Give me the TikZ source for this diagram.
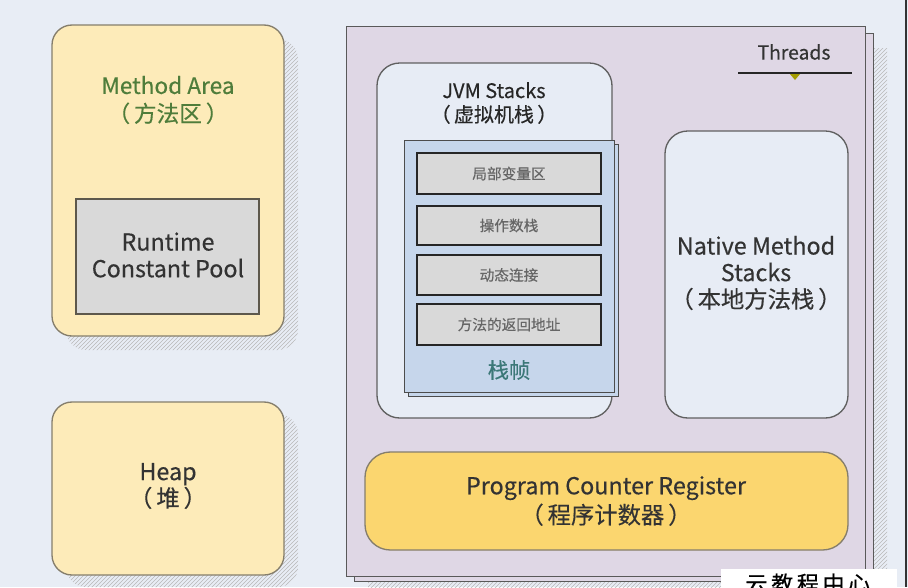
\documentclass[tikz,border=0pt]{standalone}
\usepackage{fontspec}
\setmainfont{Noto Sans CJK SC}[FakeBold=0.35]
\usetikzlibrary{patterns}

\definecolor{pagebg}{HTML}{E8EDF5}
\definecolor{areayellow}{HTML}{FDEBB9}
\definecolor{areaedge}{HTML}{857E6C}
\definecolor{poolgrey}{HTML}{D9D9D9}
\definecolor{threadfill}{HTML}{DFD7E5}
\definecolor{stackfill}{HTML}{E7ECF5}
\definecolor{framefill}{HTML}{C6D6EB}
\definecolor{pcyellow}{HTML}{FBD66F}
\definecolor{greentext}{HTML}{4F7D3B}
\definecolor{tealtext}{HTML}{3C7878}
\definecolor{darktext}{HTML}{333333}

\tikzset{every picture/.style={line width=0.75pt}}

\begin{document}
\begin{tikzpicture}[x=0.75pt,y=0.75pt,yscale=-1,xscale=1,
  hatch/.style={pattern=north east lines, pattern color=gray!55, draw=none},
  areabox/.style={draw=areaedge, fill=areayellow, line width=1pt, rounded corners=15pt},
  stackbox/.style={draw=gray!75!black, fill=stackfill, line width=1pt, rounded corners=17pt},
  slotbox/.style={draw=gray!30!black, fill=poolgrey, line width=1.2pt},
  bigtext/.style={text=darktext, align=center, font=\fontsize{17.5}{20}\selectfont, inner sep=0.75pt},
  slottext/.style={text=gray!80!black, font=\fontsize{11}{12}\selectfont, inner sep=0.75pt}]
\useasboundingbox (0,0) rectangle (908,587);
\clip (0,0) rectangle (908,587);
\fill[pagebg] (0,0) rectangle (908,587);

%Shape: Method Area shadow and box
\path[hatch, rounded corners=15pt] (66,39) rectangle (298,350);
\draw[areabox] (52,25) rectangle (284,336);
%Shape: Runtime Constant Pool
\draw[slotbox, draw=areaedge!70!black, line width=1.5pt] (76,199) rectangle (259,314);

%Shape: Heap shadow and box
\path[hatch, rounded corners=15pt] (66,414) rectangle (298,587);
\draw[areabox] (52,402) rectangle (284,575);

%Shape: Threads, shadow and two sheets
\path[hatch] (368,48) rectangle (887,600);
\draw[draw=gray!70!black, fill=threadfill] (354,33) rectangle (873,581);
\draw[draw=gray!70!black, fill=threadfill] (346,26) rectangle (865,576);

%Shape: JVM Stacks
\draw[stackbox] (377,63) rectangle (612,418);
%Shape: stack frame, two sheets
\draw[draw=gray!60!black, fill=framefill] (408,144) rectangle (618,396);
\draw[draw=gray!60!black, fill=framefill] (404,140) rectangle (614,392);
%Shape: frame slots
\draw[slotbox] (417,153) rectangle (601,194);
\draw[slotbox] (417,206) rectangle (601,245);
\draw[slotbox] (417,255) rectangle (601,295);
\draw[slotbox] (417,304) rectangle (601,345);

%Shape: Native Method Stacks
\draw[stackbox] (665,131) rectangle (848,418);

%Shape: Program Counter Register
\draw[draw=areaedge, fill=pcyellow, line width=1pt, rounded corners=19pt] (365,452) rectangle (848,550);

%Straight Lines: Threads rule with marker
\coordinate (ruleL) at (738,73);
\coordinate (ruleR) at (852,73);
\draw[draw=gray!30!black, line width=1pt] (ruleL) -- (ruleR);
\fill[olive!80!yellow] (790,74) -- (800,74) -- (795,80) -- cycle;

%Shape: right edge and label strip
\draw[draw=gray!40!black, line width=1.5pt] (906,0) -- (906,587);
\fill[white] (721,569) rectangle (897,600);

% Text Node
\node[bigtext, text=greentext, font=\fontsize{17}{21}\selectfont] (methodArea) at (168,100) {Method Area\\（\,方法区\,）};
% Text Node
\node[bigtext] (constPool) at (168,255) {Runtime\\Constant Pool};
% Text Node
\node[bigtext] (heap) at (168,486) {Heap\\（\,堆\,）};
% Text Node
\node[bigtext, text=gray!30!black, font=\fontsize{15}{18}\selectfont] (jvmStacks) at (494,103) {JVM Stacks\\（\,虚拟机栈\,）};
% Text Node
\node[bigtext, font=\fontsize{14.5}{16}\selectfont] (threads) at (794,52) {Threads};
% Text Node
\node[slottext] (localVars) at (509,173.5) {局部变量区};
% Text Node
\node[slottext] (operandStack) at (509,225.5) {操作数栈};
% Text Node
\node[slottext] (dynLink) at (509,275) {动态连接};
% Text Node
\node[slottext] (retAddr) at (509,324.5) {方法的返回地址};
% Text Node
\node[bigtext, text=tealtext, font=\fontsize{16}{18}\selectfont] (frameName) at (509,370) {栈帧};
% Text Node
\node[bigtext] (nativeStacks) at (756,273) {Native Method\\Stacks\\（\,本地方法栈\,）};
% Text Node
\node[bigtext, font=\fontsize{17.5}{22}\selectfont] (pcRegister) at (606,501) {Program Counter Register\\（\,程序计数器\,）};
% Text Node
\node[text=black, font=\fontsize{16.5}{18}\selectfont, anchor=north west, inner sep=0pt] (mark) at (745,573) {云\,教\,程\,中\,心};

\end{tikzpicture}
\end{document}
